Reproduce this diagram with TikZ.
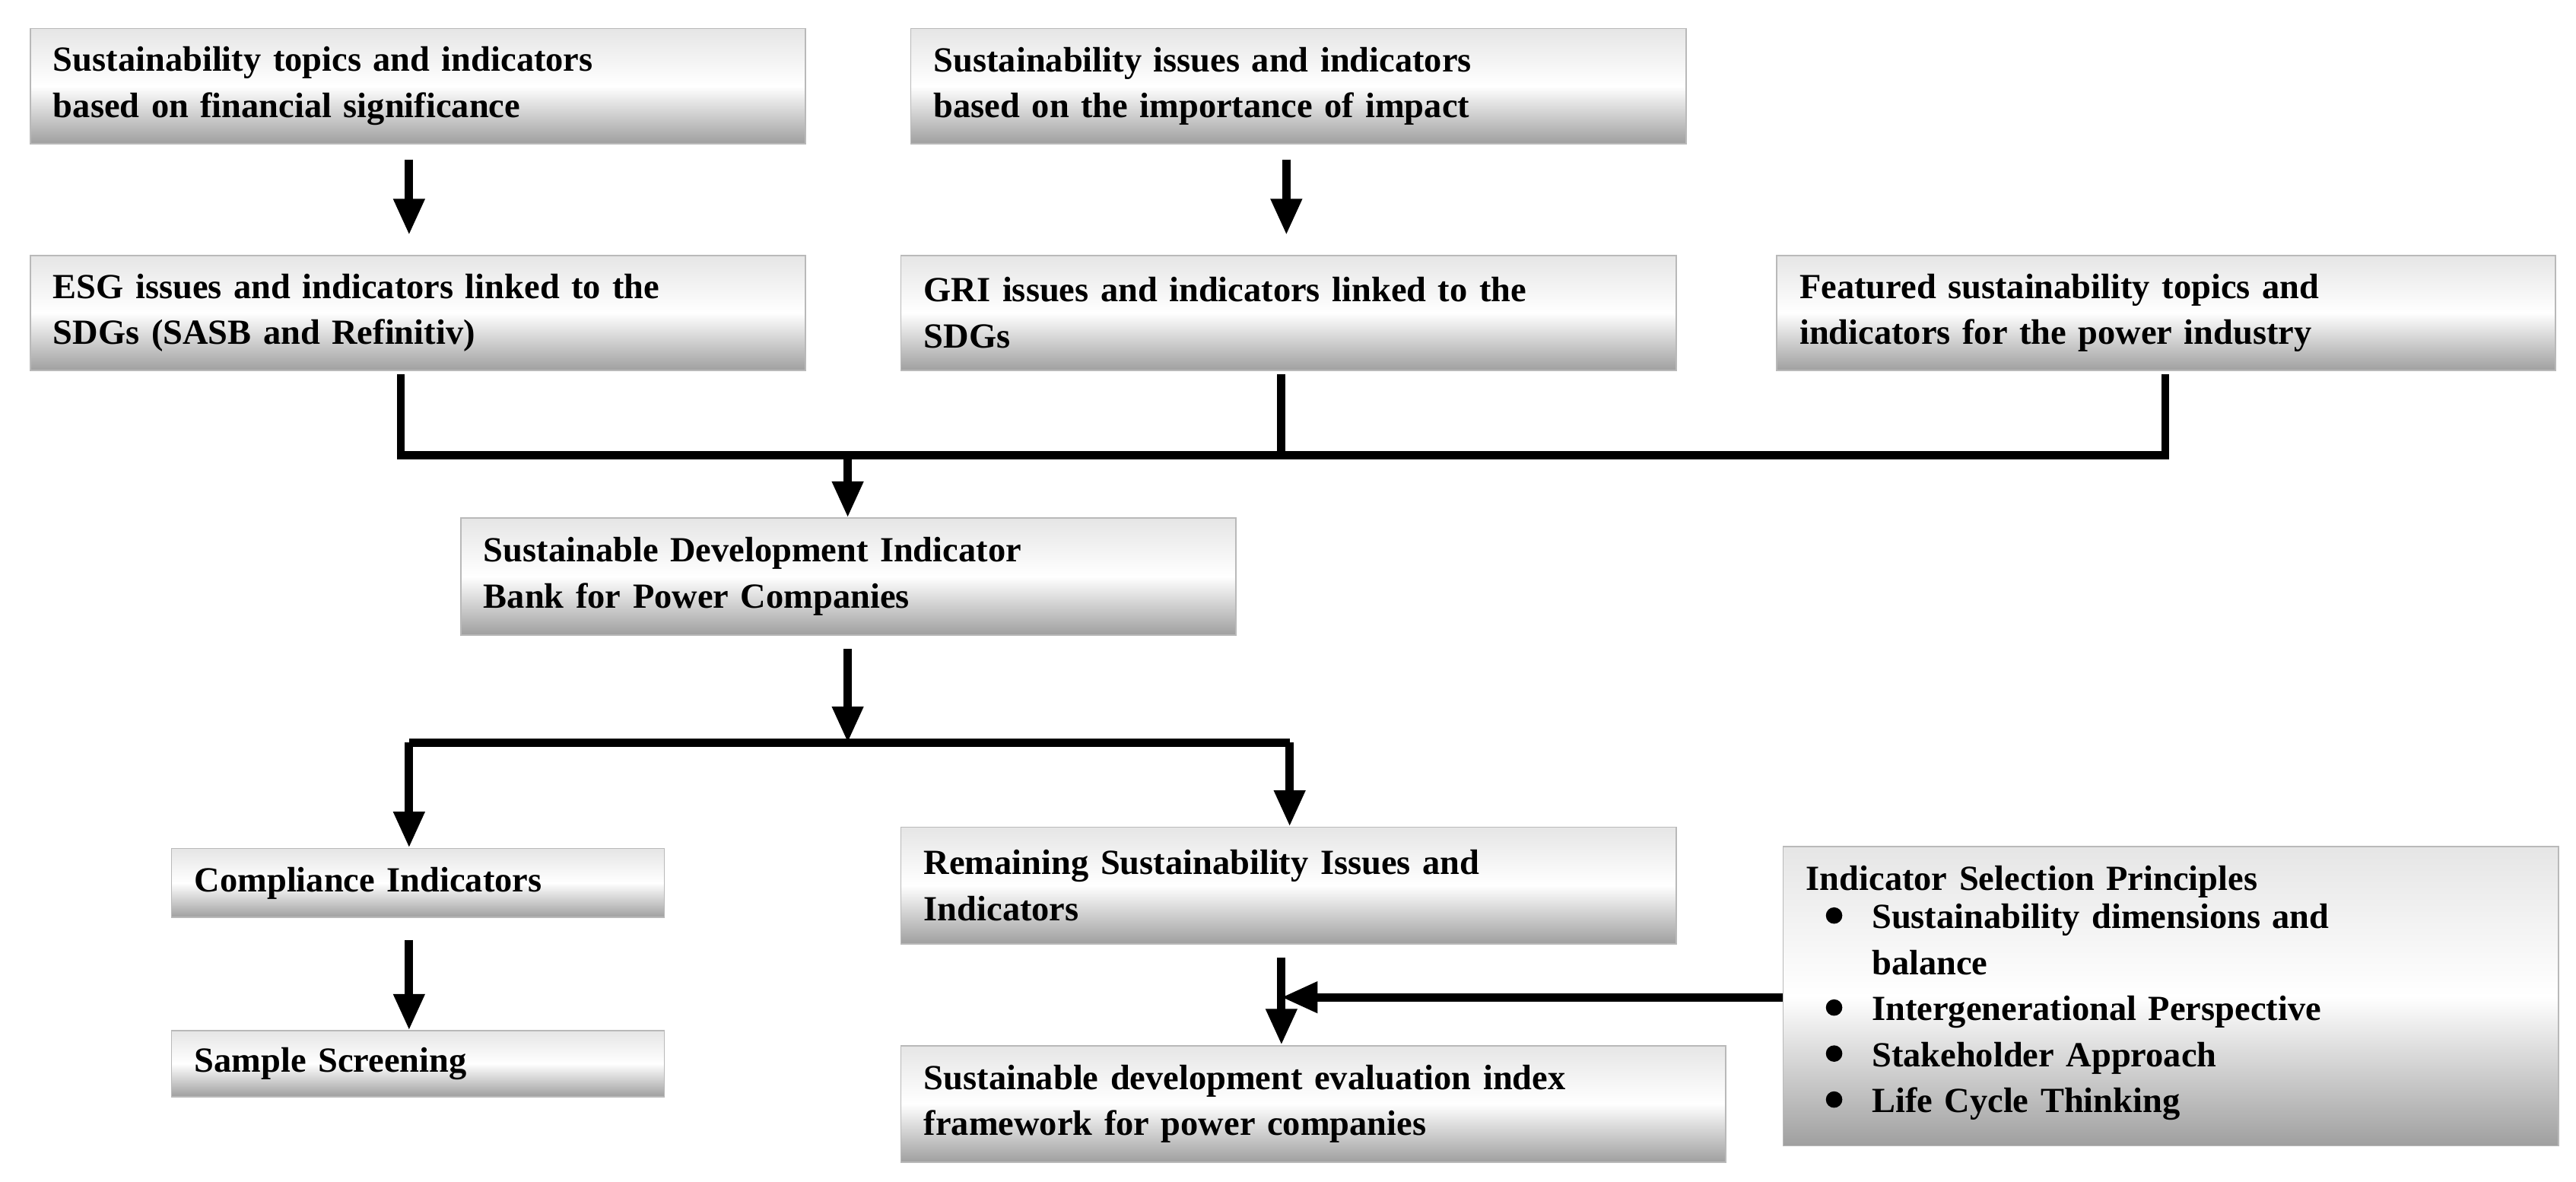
\documentclass[tikz,border=0pt]{standalone}
\usepackage{fontspec}
\setmainfont{Liberation Serif}
\usetikzlibrary{arrows.meta}
\begin{document}
\begin{tikzpicture}[x=1pt,y=1pt,
  box/.style={draw=gray!55,line width=0.8pt,top color=gray!20,bottom color=gray!75,middle color=white,
    anchor=north west,inner xsep=14pt,inner ysep=0pt,align=left,
    font=\fontsize{21.5}{28}\selectfont\bfseries},
  ln/.style={line width=5pt},
  ar/.style={line width=5pt,-{Triangle[length=22pt,width=18pt]}}]
\useasboundingbox (0,0) rectangle (1568,-719);
\fill[white] (0,0) rectangle (1568,-719);
\node[box,minimum width=472,minimum height=70,text width=444] (b1) at (18,-17) {Sustainability topics and indicators\\based on financial significance};
\node[box,minimum width=472,minimum height=70,text width=444] (b2) at (554,-17) {Sustainability issues and indicators\\based on the importance of impact};
\node[box,minimum width=472,minimum height=70,text width=444] (b3) at (18,-155) {ESG issues and indicators linked to the\\SDGs (SASB and Refinitiv)};
\node[box,minimum width=472,minimum height=70,text width=444] (b4) at (548,-155) {GRI issues and indicators linked to the\\SDGs};
\node[box,minimum width=474,minimum height=70,text width=446] (b5) at (1081,-155) {Featured sustainability topics and\\indicators for the power industry};
\node[box,minimum width=472,minimum height=71,text width=444] (b6) at (280,-315) {Sustainable Development Indicator\\Bank for Power Companies};
\node[box,minimum width=300,minimum height=42,text width=272] (b7) at (104,-516) {Compliance Indicators};
\node[box,minimum width=472,minimum height=71,text width=444] (b8) at (548,-503) {Remaining Sustainability Issues and\\Indicators};
\node[box,minimum width=300,minimum height=40,text width=272] (b9) at (104,-627) {Sample Screening};
\node[box,minimum width=502,minimum height=71,text width=474] (b10) at (548,-636) {Sustainable development evaluation index\\framework for power companies};
\node[box,minimum width=472,minimum height=182,text width=444,inner xsep=8pt] (b11) at (1085,-515) {Indicator Selection Principles\\[-2pt]
\begin{tabular}{@{}p{40pt}@{}p{400pt}@{}}
\hspace{12pt}\raisebox{3pt}{\tikz\fill (0,0) circle (5pt);} & Sustainability dimensions and\newline balance\\
\hspace{12pt}\raisebox{3pt}{\tikz\fill (0,0) circle (5pt);} & Intergenerational Perspective\\
\hspace{12pt}\raisebox{3pt}{\tikz\fill (0,0) circle (5pt);} & Stakeholder Approach\\
\hspace{12pt}\raisebox{3pt}{\tikz\fill (0,0) circle (5pt);} & Life Cycle Thinking
\end{tabular}};
\coordinate (j1) at (244,-277); \coordinate (j2) at (780,-277); \coordinate (j3) at (1318,-277);
\coordinate (k1) at (249,-452); \coordinate (k2) at (785,-452); \coordinate (k0) at (516,-452);
\coordinate (m) at (780,-607);
\draw[ar] (249,-97) -- (249,-143);
\draw[ar] (783,-97) -- (783,-143);
\draw[ln] (244,-228) -- (j1) -- (j3) -- (1318,-228);
\draw[ln] (780,-228) -- (j2);
\draw[ar] (516,-277) -- (b6.north -| 516,0);
\draw[ar] (516,-395) -- (k0);
\draw[ln] (k1) -- (k2);
\draw[ar] (k1) -- (b7.north -| k1);
\draw[ar] (k2) -- (b8.north -| k2);
\draw[ar] (249,-572) -- (b9.north -| 249,0);
\draw[ar] (780,-583) -- (b10.north -| 780,0);
\draw[ar] (b11.west |- m) -- (m);
\end{tikzpicture}
\end{document}
